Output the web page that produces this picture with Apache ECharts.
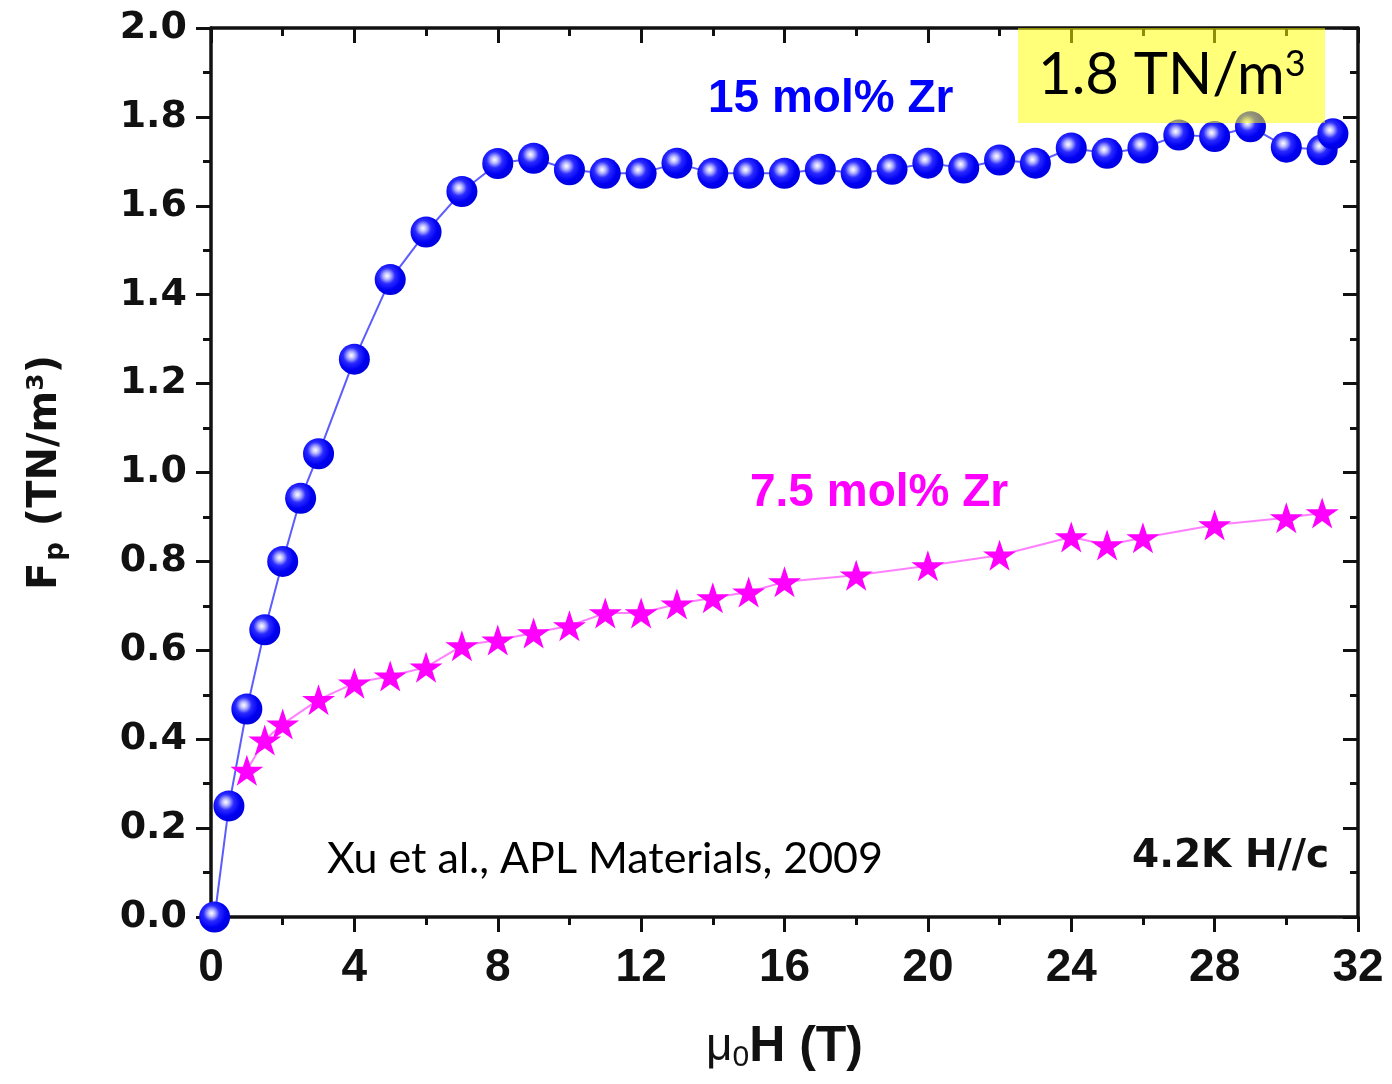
<!DOCTYPE html>
<html>
<head>
<meta charset="utf-8">
<title>Pinning force vs field</title>
<script src="https://cdn.jsdelivr.net/npm/echarts@6/dist/echarts.min.js"></script>
<style>
  html, body { margin: 0; padding: 0; background: #fff; }
  #chart { width: 1392px; height: 1084px; }
</style>
</head>
<body>
<div id="chart"></div>
<script>
// Field (T) and pinning force (TN/m^3), 15 mol% Zr
const field15 = [0.1, 0.5, 1, 1.5, 2, 2.5, 3, 4, 5, 6, 7, 8, 9, 10, 11, 12, 13, 14, 15, 16, 17, 18, 19, 20, 21, 22, 23, 24, 25, 26, 27, 28, 29, 30, 31, 31.3];
const fp15 = [0.0, 0.25, 0.468, 0.646, 0.80, 0.942, 1.042, 1.255, 1.434, 1.541, 1.632, 1.695, 1.707, 1.681, 1.673, 1.673, 1.696, 1.673, 1.673, 1.673, 1.682, 1.673, 1.682, 1.696, 1.685, 1.703, 1.696, 1.730, 1.718, 1.730, 1.759, 1.756, 1.778, 1.732, 1.726, 1.762];

// Field (T) and pinning force (TN/m^3), 7.5 mol% Zr
const field75 = [1, 1.5, 2, 3, 4, 5, 6, 7, 8, 9, 10, 11, 12, 13, 14, 15, 16, 18, 20, 22, 24, 25, 26, 28, 30, 31];
const fp75 = [0.33, 0.398, 0.434, 0.489, 0.526, 0.542, 0.562, 0.61, 0.623, 0.639, 0.655, 0.684, 0.684, 0.704, 0.718, 0.731, 0.754, 0.769, 0.79, 0.814, 0.855, 0.837, 0.853, 0.882, 0.898, 0.909];

// Axis ranges and tick steps
const xRange = [0, 32], xStep = 4;
const yRange = [0, 2], yStep = 0.2;

const pairs = (xs, ys) => xs.map((x, i) => [x, ys[i]]);

const STAR = 'path://M50,0 L61.2,34.5 L97.6,34.5 L68.2,55.9 L79.4,90.5 L50,69.1 L20.6,90.5 L31.8,55.9 L2.4,34.5 L38.8,34.5 Z';
// condensed face for the field axis
const NARROW = '"Liberation Sans Narrow", "Arial Narrow", "Liberation Sans", Arial, sans-serif';
const WIDE = '"DejaVu Sans", sans-serif';

const sphere = {
  type: 'radial', x: 0.4, y: 0.38, r: 0.62,
  colorStops: [
    { offset: 0, color: '#ffffff' },
    { offset: 0.18, color: '#b8b8ff' },
    { offset: 0.42, color: '#2a2aff' },
    { offset: 0.75, color: '#0000f2' },
    { offset: 1, color: '#0000e0' }
  ]
};

const axisLine = { show: true, onZero: false, lineStyle: { color: '#111', width: 3.5 } };

function xAxisDef(pos, inside, labels) {
  return {
    type: 'value', position: pos, min: xRange[0], max: xRange[1], interval: xStep,
    axisLine: axisLine,
    axisTick: { show: true, inside: inside, length: 15, lineStyle: { color: '#111', width: 3 } },
    minorTick: { show: true, splitNumber: 2, length: 8, lineStyle: { color: '#111', width: 3 } },
    splitLine: { show: false },
    axisLabel: labels ? {
      show: true, margin: 28, color: '#111', fontSize: 46, fontWeight: 'bold', fontFamily: NARROW
    } : { show: false }
  };
}

function yAxisDef(pos, inside, labels) {
  return {
    type: 'value', position: pos, min: yRange[0], max: yRange[1], interval: yStep,
    axisLine: axisLine,
    axisTick: { show: true, inside: inside, length: 15, lineStyle: { color: '#111', width: 3 } },
    minorTick: { show: true, splitNumber: 2, length: 8, lineStyle: { color: '#111', width: 3 } },
    splitLine: { show: false },
    axisLabel: labels ? {
      show: true, margin: 24, color: '#111', fontSize: 38, fontWeight: 'bold', fontFamily: WIDE,
      formatter: v => v.toFixed(1)
    } : { show: false }
  };
}

const xMain = xAxisDef('bottom', false, true);
xMain.name = '{m|\u03bc}{s|0}{b|H (T)}';
xMain.nameLocation = 'middle';
xMain.nameGap = 104;
xMain.nameTextStyle = {
  color: '#111',
  rich: {
    m: { fontSize: 46, fontFamily: NARROW, color: '#111' },
    s: { fontSize: 30, fontFamily: NARROW, color: '#111', padding: [22, 0, 0, 0] },
    b: { fontSize: 50, fontWeight: 'bold', fontFamily: NARROW, color: '#111' }
  }
};

const yMain = yAxisDef('left', false, true);
yMain.name = '{b|F}{s|p}{b| (TN/m\u00b3)}';
yMain.nameLocation = 'middle';
yMain.nameGap = 142;
yMain.nameRotate = 90;
yMain.nameTextStyle = {
  color: '#111',
  rich: {
    b: { fontSize: 40, fontWeight: 'bold', fontFamily: WIDE, color: '#111' },
    s: { fontSize: 26, fontWeight: 'bold', fontFamily: WIDE, color: '#111', padding: [20, 2, 0, 2] }
  }
};

const chart = echarts.init(document.getElementById('chart'), null, { renderer: 'canvas' });

chart.setOption({
  animation: false,
  backgroundColor: '#ffffff',
  grid: { left: 211, right: 34, top: 28, bottom: 167, containLabel: false },
  xAxis: [xMain, xAxisDef('top', true, false)],
  yAxis: [yMain, yAxisDef('right', true, false)],
  series: [
    {
      name: '15 mol% Zr',
      type: 'line',
      xAxisIndex: 0, yAxisIndex: 0,
      data: pairs(field15, fp15),
      symbol: 'circle',
      symbolSize: 31,
      showSymbol: true,
      clip: false,
      lineStyle: { color: '#5c5cff', width: 2 },
      itemStyle: { color: sphere, borderWidth: 0 },
      z: 3
    },
    {
      name: '7.5 mol% Zr',
      type: 'line',
      xAxisIndex: 0, yAxisIndex: 0,
      data: pairs(field75, fp75),
      symbol: STAR,
      symbolSize: [33, 31],
      showSymbol: true,
      clip: false,
      lineStyle: { color: '#ff80ff', width: 2 },
      itemStyle: { color: '#ff00ff', borderWidth: 0 },
      z: 4
    }
  ],
  graphic: [
    {
      type: 'text', left: 708, top: 76, z: 50,
      style: { text: '15 mol% Zr', fill: '#0000ff', font: 'bold 46px "Liberation Sans", Arial, sans-serif' }
    },
    {
      type: 'text', left: 750, top: 470, z: 50,
      style: { text: '7.5 mol% Zr', fill: '#ff00ff', font: 'bold 46px "Liberation Sans", Arial, sans-serif' }
    },
    {
      type: 'text', left: 1132, top: 837, z: 50,
      style: { text: '4.2K H//c', fill: '#111', font: 'bold 39px "DejaVu Sans", sans-serif' }
    },
    {
      type: 'text', left: 327, top: 838, z: 50,
      style: { text: 'Xu et al., APL Materials, 2009', fill: '#000', font: '43px Lato, "Open Sans", sans-serif' }
    },
    {
      type: 'rect', z: 100,
      shape: { x: 1018, y: 28, width: 307, height: 95 },
      style: { fill: 'rgba(255,255,0,0.52)' }
    },
    {
      type: 'text', z: 101, left: 1038, top: 46,
      style: {
        text: '{n|1.8 TN/m}{p|3}',
        rich: {
          n: { fontSize: 58, fontFamily: 'Lato, "Open Sans", sans-serif', fill: '#000', verticalAlign: 'bottom' },
          p: { fontSize: 36, fontFamily: 'Lato, "Open Sans", sans-serif', fill: '#000', verticalAlign: 'top' }
        }
      }
    }
  ]
});
</script>
</body>
</html>
